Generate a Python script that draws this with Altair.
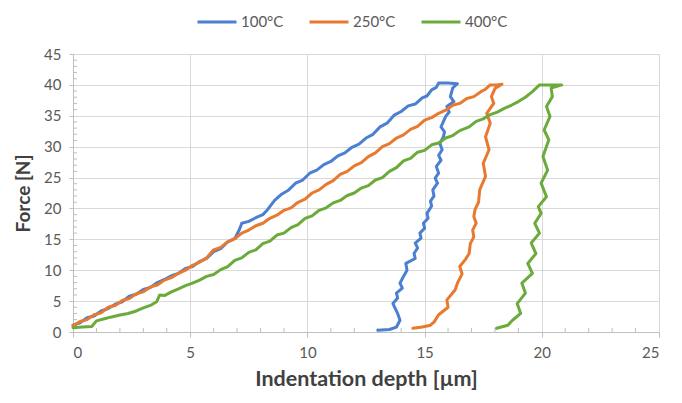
import altair as alt
import pandas as pd

# Series labels and colours
series_names = ["100°C", "250°C", "400°C"]
series_colors = ["#4a7fd1", "#e8792f", "#6aab3c"]

# 100 °C: loading then unloading path (depth in µm, force in N)
blue_depth = [0.0, 0.3, 0.6, 0.9, 1.2, 1.5, 1.8, 2.1, 2.4, 2.7, 3.0, 3.3, 3.6, 3.9, 4.2, 4.5,
              4.8, 5.1, 5.4, 5.7, 6.0, 6.3, 6.6, 6.9, 7.1, 7.2, 7.5, 7.8, 8.1, 8.3, 8.6, 8.9,
              9.2, 9.5, 9.8, 10.1, 10.4, 10.7, 11.0, 11.3, 11.6, 11.9, 12.2, 12.5, 12.8, 13.1,
              13.4, 13.7, 14.0, 14.3, 14.6, 14.9, 15.1, 15.3, 15.5, 15.6, 16.0, 16.4,
              16.2, 16.1, 16.25, 15.95, 16.05, 15.9, 15.7, 15.85, 15.8, 15.65, 15.75, 15.6,
              15.7, 15.5, 15.6, 15.45, 15.55, 15.35, 15.4, 15.25, 15.3, 15.1, 15.15, 14.95,
              15.0, 14.8, 14.85, 14.6, 14.7, 14.55, 14.6, 14.2, 14.25, 14.1, 13.95, 14.05,
              13.8, 13.85, 13.65, 13.75, 13.85, 13.95, 13.8, 13.5, 13.0]
blue_force = [1.1, 1.5, 2.3, 2.6, 3.4, 3.8, 4.5, 4.9, 5.8, 6.1, 6.9, 7.2, 8.0, 8.5, 9.1, 9.5,
              10.3, 10.6, 11.4, 11.9, 13.0, 13.5, 14.6, 15.1, 16.6, 17.6, 17.9, 18.5, 19.0, 19.8, 21.3, 22.3,
              23.0, 24.1, 24.6, 25.7, 26.2, 27.1, 27.6, 28.5, 29.0, 29.9, 30.4, 31.4, 32.0, 33.2,
              33.8, 35.1, 35.7, 36.6, 36.9, 37.9, 38.2, 39.2, 39.6, 40.3, 40.3, 40.2,
              39.5, 38.1, 37.3, 36.5, 35.6, 34.9, 33.2, 32.4, 31.6, 30.5, 29.5, 28.6,
              27.8, 26.8, 25.7, 24.9, 24.1, 23.0, 22.0, 21.2, 20.4, 19.2, 18.4, 17.6,
              16.8, 16.0, 15.2, 14.4, 13.6, 12.7, 11.9, 11.1, 10.0, 9.0, 7.9, 7.1,
              6.3, 5.5, 4.6, 3.8, 3.0, 1.9, 0.8, 0.4, 0.3]

# 250 °C
orange_depth = [0.0, 0.3, 0.6, 0.9, 1.2, 1.5, 1.8, 2.1, 2.4, 2.7, 3.0, 3.3, 3.6, 3.9, 4.2, 4.5,
                4.8, 5.1, 5.4, 5.7, 6.0, 6.3, 6.6, 6.9, 7.2, 7.5, 7.8, 8.1, 8.4, 8.7, 9.0, 9.3,
                9.6, 9.9, 10.2, 10.5, 10.8, 11.1, 11.4, 11.7, 12.0, 12.3, 12.6, 12.9, 13.2, 13.5,
                13.8, 14.1, 14.4, 14.7, 15.0, 15.3, 15.6, 15.9, 16.2, 16.5, 16.8, 17.1, 17.4, 17.6,
                17.8, 18.1, 18.3,
                18.0, 17.85, 17.95, 17.65, 17.8, 17.6, 17.75, 17.5, 17.6, 17.35, 17.3, 17.15,
                17.1, 17.2, 17.05, 17.1, 16.95, 16.9, 16.75, 16.5, 16.6, 16.4, 16.3, 15.95,
                16.0, 15.6, 15.4, 15.25, 14.9, 14.5]
orange_force = [1.0, 1.7, 2.0, 2.8, 3.1, 4.0, 4.3, 5.1, 5.4, 6.2, 6.5, 7.3, 7.6, 8.4, 8.8, 9.5,
                10.0, 10.8, 11.3, 12.0, 13.3, 13.7, 14.6, 15.1, 16.0, 16.5, 17.2, 17.6, 18.4, 18.9, 19.7, 20.1,
                21.0, 21.5, 22.5, 23.0, 23.9, 24.5, 25.5, 26.0, 26.9, 27.4, 28.4, 29.0, 30.0, 30.5,
                31.4, 31.9, 32.8, 33.3, 34.3, 34.7, 35.4, 35.9, 36.7, 37.0, 37.8, 38.1, 38.9, 39.3,
                40.0, 40.0, 40.1,
                39.4, 38.1, 37.0, 35.4, 33.8, 31.6, 29.5, 27.3, 25.2, 23.0, 21.0, 19.8,
                18.7, 17.6, 16.5, 15.4, 14.3, 12.7, 11.8, 10.6, 9.4, 7.9, 6.8, 5.2,
                4.0, 2.8, 1.6, 1.1, 0.8, 0.6]

# 400 °C
green_depth = [0.0, 0.4, 0.8, 1.0, 1.3, 1.6, 2.0, 2.35, 2.7, 3.0, 3.3, 3.57, 3.7, 3.9, 4.2, 4.5,
               4.8, 5.1, 5.4, 5.7, 6.0, 6.3, 6.6, 6.9, 7.2, 7.5, 7.8, 8.1, 8.4, 8.7, 9.0, 9.3,
               9.6, 9.9, 10.2, 10.5, 10.8, 11.1, 11.4, 11.7, 12.0, 12.3, 12.6, 12.9, 13.2, 13.5,
               13.8, 14.1, 14.4, 14.7, 15.0, 15.3, 15.6, 15.9, 16.2, 16.5, 16.9, 17.2, 17.5, 17.8,
               18.1, 18.4, 18.7, 19.0, 19.3, 19.6, 19.9, 20.3, 20.85,
               20.4, 20.45, 20.2, 20.35, 20.1, 20.3, 20.05, 20.25, 19.97, 20.2, 19.85, 19.97,
               19.7, 19.9, 19.55, 19.75, 19.4, 19.6, 19.15, 19.3, 18.95, 19.1, 18.75, 18.55, 18.07]
green_force = [0.7, 0.8, 0.9, 1.8, 2.1, 2.4, 2.75, 3.0, 3.4, 3.9, 4.3, 4.9, 6.0, 5.9, 6.5, 7.0,
               7.5, 7.9, 8.4, 9.0, 9.3, 10.1, 10.6, 11.6, 12.0, 12.9, 13.3, 14.3, 14.7, 15.7, 16.0, 16.9,
               17.4, 18.4, 18.8, 19.7, 20.1, 20.9, 21.3, 22.1, 22.5, 23.3, 23.7, 24.6, 25.0, 26.0,
               26.6, 27.7, 28.1, 29.1, 29.4, 30.3, 30.6, 31.4, 31.8, 32.6, 33.2, 34.1, 34.5, 35.2,
               35.6, 36.2, 36.7, 37.3, 38.0, 38.9, 40.0, 40.0, 40.0,
               39.5, 38.1, 36.5, 34.9, 32.7, 31.1, 28.4, 26.2, 24.1, 21.9, 20.3, 19.2,
               17.6, 16.0, 14.4, 12.7, 11.1, 9.5, 7.9, 6.3, 4.6, 3.0, 1.9, 1.1, 0.6]

# Axis tick positions
x_ticks = [0, 5, 10, 15, 20, 25]
y_ticks = [0, 5, 10, 15, 20, 25, 30, 35, 40, 45]
x_minor = [v for v in range(1, 25) if v % 5]
y_minor = [v for v in range(1, 45) if v % 5]

rows = []
for name, xs, ys in zip(series_names,
                        [blue_depth, orange_depth, green_depth],
                        [blue_force, orange_force, green_force]):
    for i, (xv, yv) in enumerate(zip(xs, ys)):
        rows.append({"series": name, "depth": xv, "force": yv, "step": i})
df = pd.DataFrame(rows)

W, H = 586, 278
FONT = "Lato"
AXIS_GRAY = "#bfbfbf"
GRID_GRAY = "#d9d9d9"
LABEL_GRAY = "#595959"

x_scale = alt.Scale(domain=[0, 25], nice=False, zero=False)
y_scale = alt.Scale(domain=[0, 45], nice=False, zero=False)

x_axis = alt.Axis(values=x_ticks, title="Indentation depth [µm]", grid=True, gridColor=GRID_GRAY,
                  domainColor=AXIS_GRAY, tickColor=AXIS_GRAY, tickSize=5, labelPadding=8,
                  labelFont=FONT, labelFontSize=15, labelColor=LABEL_GRAY,
                  titleFont=FONT, titleFontSize=21.5, titleFontWeight="bold", titleColor="#404040",
                  titlePadding=8)
y_axis = alt.Axis(values=y_ticks, title="Force [N]", grid=True, gridColor=GRID_GRAY,
                  domainColor=AXIS_GRAY, tickColor=AXIS_GRAY, tickSize=4, labelPadding=8,
                  labelFont=FONT, labelFontSize=15, labelColor=LABEL_GRAY,
                  titleFont=FONT, titleFontSize=19, titleFontWeight="bold", titleColor="#404040",
                  titlePadding=10)

# Inner minor ticks along both axes
minor_x = alt.Chart(pd.DataFrame({"v": x_minor})).mark_rule(color=AXIS_GRAY, strokeWidth=1).encode(
    x=alt.X("v:Q", scale=x_scale, axis=x_axis),
    y=alt.value(H), y2=alt.value(H - 4),
)
minor_y = alt.Chart(pd.DataFrame({"v": y_minor})).mark_rule(color=AXIS_GRAY, strokeWidth=1).encode(
    y=alt.Y("v:Q", scale=y_scale, axis=y_axis),
    x=alt.value(0), x2=alt.value(4),
)

curves = alt.Chart(df).mark_line(strokeWidth=3, strokeJoin="round", strokeCap="round").encode(
    x=alt.X("depth:Q", scale=x_scale, axis=x_axis),
    y=alt.Y("force:Q", scale=y_scale, axis=y_axis),
    color=alt.Color("series:N",
                    scale=alt.Scale(domain=series_names, range=series_colors),
                    legend=alt.Legend(title=None, orient="none", legendX=123, legendY=-53,
                                      direction="horizontal", symbolType="stroke",
                                      symbolSize=1521, symbolStrokeWidth=3,
                                      labelFont=FONT, labelFontSize=15, labelColor=LABEL_GRAY,
                                      labelOffset=3, columnPadding=19, padding=0)),
    order=alt.Order("step:Q"),
)

chart = alt.layer(minor_x, minor_y, curves).properties(
    width=W, height=H,
    autosize=alt.AutoSizeParams(type="none"),
    padding={"left": 73, "top": 54, "right": 23, "bottom": 71},
    background="white",
).configure_view(stroke=None)

chart.save("out.html", embed_options={"renderer": "svg", "actions": False})
